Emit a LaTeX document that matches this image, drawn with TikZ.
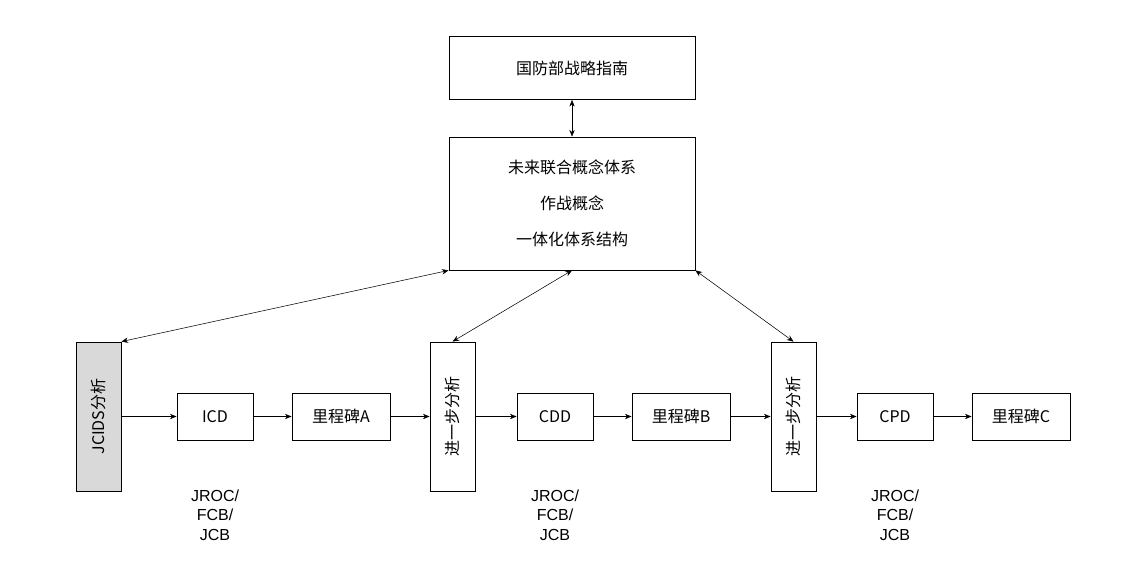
\documentclass[tikz,border=0pt]{standalone}
\usepackage{fontspec}
\setmainfont{Liberation Serif}
\newfontfamily\cjk{Noto Sans CJK SC}
\newfontfamily\arial{Liberation Sans}
\usetikzlibrary{positioning, arrows.meta}

\begin{document}
\begin{tikzpicture}[x=0.75pt, y=-0.75pt, >={Stealth[length=5pt,width=4pt]},
  box/.style={draw, semithick, font=\cjk\fontsize{12}{14}\selectfont, inner sep=0pt},
  vbox/.style={box, minimum width=33.75pt, minimum height=111.75pt},
  hbox/.style={box, minimum width=57pt, minimum height=35.25pt},
  mbox/.style={box, minimum width=73.5pt, minimum height=35.25pt},
  note/.style={font=\arial\fontsize{12}{14.5}\selectfont, align=center}]
\useasboundingbox (0,0) rectangle (1134,573);
% top
\node[box, minimum width=184.5pt, minimum height=47.25pt] (dod) at (572,68) {国防部战略指南};
\node[box, minimum width=184.5pt, minimum height=99.75pt, align=center,
  font=\cjk\fontsize{12}{27}\selectfont] (jcs) at (572,203.5) {未来联合概念体系\\作战概念\\一体化体系结构};
% bottom row
\node[vbox, fill=gray!30] (jcids) at (98.5,416.5) {\rotatebox{90}{JCIDS分析}};
\node[hbox] (icd) at (215,416.5) {ICD};
\node[mbox] (msa) at (341,416.5) {里程碑A};
\node[vbox] (fa1) at (452.5,416.5) {\rotatebox{90}{进一步分析}};
\node[hbox] (cdd) at (555,416.5) {CDD};
\node[mbox] (msb) at (681,416.5) {里程碑B};
\node[vbox] (fa2) at (793.5,416.5) {\rotatebox{90}{进一步分析}};
\node[hbox] (cpd) at (895,416.5) {CPD};
\node[mbox] (msc) at (1021,416.5) {里程碑C};
\node[note] (j1) at (215,515) {JROC/\\FCB/\\JCB};
\node[note] (j2) at (555,515) {JROC/\\FCB/\\JCB};
\node[note] (j3) at (895,515) {JROC/\\FCB/\\JCB};
% connectors
\draw[<->] (dod) -- (jcs);
\draw[<->] (jcs.south west) -- (jcids.north east);
\draw[<->] (jcs.south) -- (fa1.north);
\draw[<->] (jcs.south east) -- (fa2.north);
\foreach \a/\b in {jcids/icd, icd/msa, msa/fa1, fa1/cdd, cdd/msb, msb/fa2, fa2/cpd, cpd/msc}
  \draw[->] (\a) -- (\b);
\end{tikzpicture}
\end{document}
